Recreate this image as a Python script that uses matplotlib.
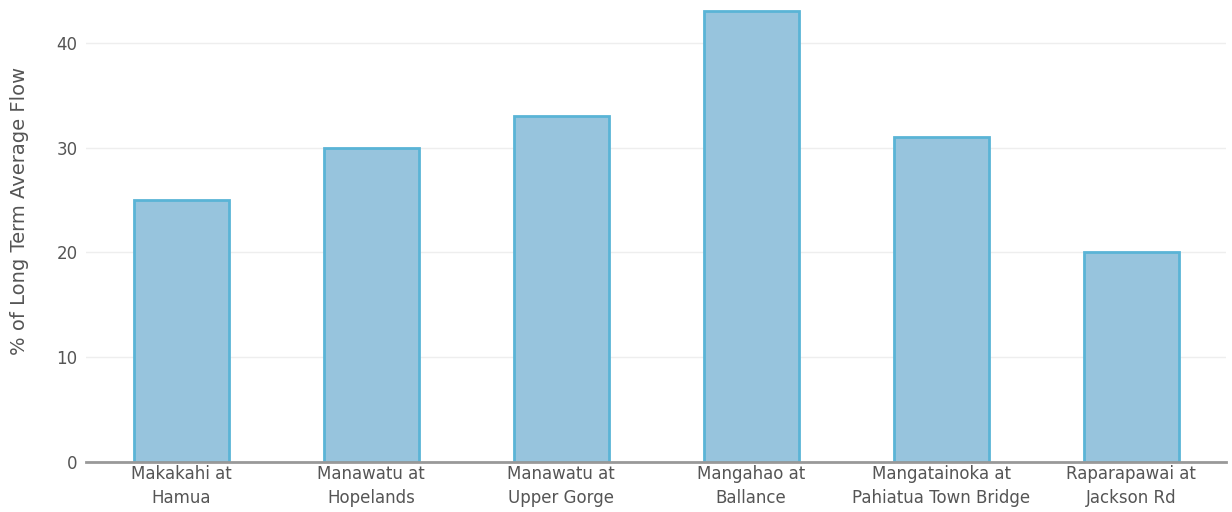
import matplotlib
matplotlib.use("Agg")
import matplotlib.pyplot as plt

categories = ["Makakahi at\nHamua", "Manawatu at\nHopelands", "Manawatu at\nUpper Gorge",
              "Mangahao at\nBallance", "Mangatainoka at\nPahiatua Town Bridge", "Raparapawai at\nJackson Rd"]
values = [25, 30, 33, 43, 31, 20]
yticks = [0, 10, 20, 30, 40]

plt.rcParams['font.family'] = ['DejaVu Sans']
fig = plt.figure(figsize=(12.32, 5.12), dpi=100)
ax = fig.add_axes([86/1232, 50/512, 1140/1232, 457/512])

x = list(range(len(categories)))
ax.bar(x, values, width=0.5, color="#97c4dd", edgecolor="#5ab4d6", linewidth=2, zorder=3)
ax.set_xlim(-0.5, len(categories) - 0.5)
ax.set_ylim(0, 43.6)
ax.set_yticks(yticks)
ax.set_xticks(x)
ax.set_xticklabels(categories, fontsize=12, color="#555555", linespacing=1.45)
ax.tick_params(axis='both', length=0, colors="#555555")
ax.tick_params(axis='y', labelsize=12, pad=6)
ax.tick_params(axis='x', pad=2)
ax.grid(axis='y', color="#eeeeee", linewidth=1, zorder=0)
for s in ["top", "right", "left"]:
    ax.spines[s].set_visible(False)
ax.spines["bottom"].set_color("#999999")
ax.spines["bottom"].set_linewidth(2)
ax.spines["bottom"].set_zorder(4)
ax.set_ylabel("% of Long Term Average Flow", fontsize=14, color="#555555")
ax.yaxis.set_label_coords(-0.05, 0.549)

fig.savefig("out.png", dpi=100)
